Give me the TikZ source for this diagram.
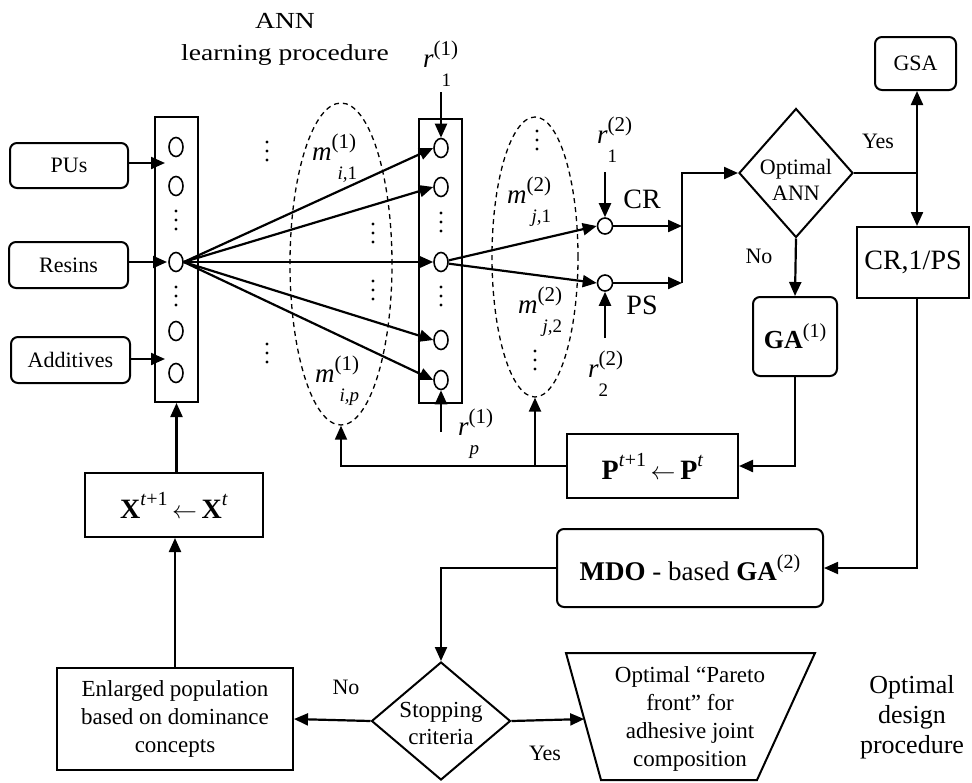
\documentclass[tikz,border=0pt]{standalone}
\usepackage{fontspec}
\setmainfont{Liberation Serif}
\usetikzlibrary{arrows.meta,shapes.geometric,calc}
\newcommand\fsz[1]{\fontsize{#1}{#1}\selectfont}
\newcommand\ssl[4][4pt]{{\fsz{27}\itshape #2}\rlap{\raisebox{12pt}{\fsz{21}(#3)}}\hspace{#1}\raisebox{-19pt}{\fsz{19}#4}}
\begin{document}
\begin{tikzpicture}[x=1pt,y=-1pt,
  ln/.style={line width=2pt},
  arr/.style={line width=2.2pt,-{Triangle[length=14pt,width=12pt]}},
  rbox/.style={draw,line width=2pt,rounded corners=7pt,inner sep=0pt,align=center},
  sbox/.style={draw,line width=2pt,inner sep=0pt,align=center},
  neuron/.style={draw,ellipse,line width=1.6pt,minimum width=14pt,minimum height=19pt,inner sep=0pt},
  oneuron/.style={neuron,minimum width=15pt,minimum height=16pt},
  dashell/.style={draw,ellipse,dash pattern=on 5pt off 4pt,line width=1.3pt,inner sep=0pt},
  lbl/.style={inner sep=0pt,align=center},
  vd/.pic={\foreach \d in {-9,0,9} \fill (0,\d) circle (1.6pt);}
]
\useasboundingbox (0,0) rectangle (972,782);

% title
\node[lbl] (tANN) at (285,21) {\scalebox{1.2}[1]{\fsz{23}ANN}};
\node[lbl] (tlearn) at (285,55) {\scalebox{1.2}[1]{\fsz{23}learning procedure}};

% inputs
\node[rbox,minimum width=118pt,minimum height=45pt,font=\fsz{22}] (PUs) at (69,165.5) {PUs};
\node[rbox,minimum width=119pt,minimum height=46pt,font=\fsz{22}] (Res) at (68.5,265) {Resins};
\node[rbox,minimum width=119pt,minimum height=46pt,font=\fsz{22}] (Add) at (70.5,360) {Additives};

% input layer
\node[sbox,minimum width=43pt,minimum height=285pt] (inl) at (176.5,259.5) {};
\node[neuron] (in1) at (176,147) {};
\node[neuron] (in2) at (176,186) {};
\node[neuron] (in3) at (176,262) {};
\node[neuron] (in4) at (176,331) {};
\node[neuron] (in5) at (176,373) {};
\pic at (176,220) {vd};
\pic at (176,296) {vd};
\coordinate (a1) at (165,163);
\coordinate (a2) at (167,262);
\coordinate (a3) at (165,359);
\draw[arr] (PUs.east |- a1) -- (a1);
\draw[arr] (Res.east |- a2) -- (a2);
\draw[arr] (Add.east |- a3) -- (a3);

% hidden layer
\node[sbox,minimum width=43pt,minimum height=284pt] (hl) at (440.5,261) {};
\node[neuron] (h1) at (441,148) {};
\node[neuron] (h2) at (441,187) {};
\node[neuron] (h3) at (441,262) {};
\node[neuron] (h4) at (441,340) {};
\node[neuron] (h5) at (441,380) {};
\pic at (441,222) {vd};
\pic at (441,296) {vd};

% dashed ellipses
\node[dashell,minimum width=102pt,minimum height=322pt] (e1) at (341,264) {};
\node[dashell,minimum width=86pt,minimum height=280pt] (e2) at (535,257) {};
\pic at (267,151) {vd};
\pic at (267,353) {vd};
\pic at (373,233) {vd};
\pic at (373,290) {vd};
\pic at (537,140) {vd};
\pic at (535,360) {vd};

\foreach \h in {h1,h2,h3,h4,h5} \draw[arr] (in3.east) -- (\h.west);

% weight labels
\node[lbl,anchor=base west] (m11) at (312,160) {\ssl[6pt]{m}{1}{\itshape i,\upshape1}};
\node[lbl,anchor=base west] (m1p) at (315,382) {\ssl[5pt]{m}{1}{\itshape i,p}};
\node[lbl,anchor=base west] (m21) at (507,203) {\ssl[5pt]{m}{2}{\itshape j,\upshape1}};
\node[lbl,anchor=base west] (m22) at (518,313) {\ssl[5pt]{m}{2}{\itshape j,\upshape2}};

% biases
\coordinate (rt1) at (441,92);
\coordinate (rtp) at (441,432);
\draw[arr] (rt1) -- (h1.north);
\draw[arr] (rtp) -- (h5.south);
\node[lbl,anchor=base west] (r11) at (423,67) {\ssl[8pt]{r}{1}{1}};
\node[lbl,anchor=base west] (r1p) at (458,435) {\ssl[1pt]{r}{1}{\itshape p}};

% outputs
\node[oneuron] (o1) at (605,226) {};
\node[oneuron] (o2) at (605,283) {};
\draw[arr] (h3.12) -- (o1.west);
\draw[arr] (h3.-12) -- (o2.west);
\coordinate (rb1) at (605,172);
\coordinate (rb2) at (605,338);
\draw[arr] (rb1) -- (o1.north);
\draw[arr] (rb2) -- (o2.south);
\node[lbl,anchor=base west] (r21) at (597,143) {\ssl[0pt]{r}{2}{1}};
\node[lbl,anchor=base west] (r22) at (588,377) {\ssl[0pt]{r}{2}{2}};
\node[lbl,font=\fsz{28}] (CR) at (642,199) {CR};
\node[lbl,font=\fsz{28}] (PS) at (642,305) {PS};

% decision optimal ANN
\node[draw,diamond,line width=2pt,minimum width=114pt,minimum height=129pt,inner sep=0pt] (dia) at (796,173) {};
\node[lbl,font=\fontsize{22}{26}\selectfont] (diat) at (796,180) {Optimal\\ANN};
\coordinate (oj1) at (682,226);
\coordinate (oj2) at (682,283);
\coordinate (ojt) at (682,173);
\draw[arr] (o1.east) -- (oj1);
\draw[arr] (o2.east) -- (oj2);
\draw[arr] (oj2) -- (ojt) -- (dia.west);

% GSA and CR,1/PS
\node[rbox,minimum width=81pt,minimum height=53pt,font=\fsz{22}] (GSA) at (915.5,63.5) {GSA};
\node[sbox,minimum width=112pt,minimum height=71pt,font=\fsz{28}] (CRb) at (913,262.5) {CR,1/PS};
\coordinate (yj) at (917,173);
\draw[ln] (dia.east) -- (yj);
\draw[arr] (yj) -- (yj |- GSA.south);
\draw[arr] (yj) -- (yj |- CRb.north);
\node[lbl,font=\fsz{22}] (yes1) at (878,141) {Yes};
\node[lbl,font=\fsz{22}] (no1) at (759,256) {No};

% GA(1)
\node[rbox,minimum width=84pt,minimum height=79pt,font=\fsz{26}] (GA1) at (795,336.5) {\textbf{GA}\raisebox{11pt}{\fsz{20}(1)}};
\draw[arr] (dia.south) -- (GA1.north);

% P box
\node[sbox,minimum width=171pt,minimum height=64pt,font=\fsz{28}] (Pb) at (652.5,466) {\textbf{P}\raisebox{13pt}{\fsz{20}\textit{t}+1}\,$\leftarrow$\,\textbf{P}\raisebox{13pt}{\fsz{20}\textit{t}}};
\draw[arr] (GA1.south) |- (Pb.east);
\draw[arr,line width=1.8pt] (Pb.west) -| (e1.south);
\draw[arr] (Pb.west -| e2.south) -- (e2.south);

% X box
\node[sbox,minimum width=178pt,minimum height=64pt,font=\fsz{28}] (Xb) at (174,505) {\textbf{X}\raisebox{13pt}{\fsz{20}\textit{t}+1}\,$\leftarrow$\,\textbf{X}\raisebox{13pt}{\fsz{20}\textit{t}}};
\draw[arr] (inl.south |- Xb.north) -- (inl.south);

% MDO box
\node[rbox,minimum width=266pt,minimum height=78pt,font=\fsz{27}] (MDO) at (690,568) {\textbf{MDO} - based \textbf{GA}\raisebox{12pt}{\fsz{20}(2)}};
\draw[arr,line width=1.8pt] (yj |- CRb.south) |- (MDO.east);

% stopping criteria
\node[draw,diamond,line width=2pt,minimum width=139pt,minimum height=118pt,inner sep=0pt] (stop) at (441,721) {};
\node[lbl,font=\fontsize{23}{27}\selectfont] (stopt) at (441,723) {Stopping\\criteria};
\draw[arr] (MDO.west) -| (stop.north);

% enlarged population
\node[sbox,minimum width=236pt,minimum height=102pt,font=\fontsize{23}{28}\selectfont] (Enl) at (175,719) {Enlarged population\\based on dominance\\concepts};
\draw[arr] (Enl.north) -- (Enl.north |- Xb.south);
\draw[arr] (stop.west) -- (Enl.east);
\node[lbl,font=\fsz{22}] (no2) at (346,687) {No};

% trapezoid
\coordinate (tzTL) at (566,653);
\coordinate (tzTR) at (815,653);
\coordinate (tzBR) at (757,780);
\coordinate (tzBL) at (601,780);
\draw[ln] (tzTL) -- (tzTR) -- (tzBR) -- (tzBL) -- cycle;
\coordinate (tzL) at ($(tzTL)!0.52!(tzBL)$);
\draw[arr] (stop.east) -- (tzL);
\node[lbl,font=\fontsize{23}{28}\selectfont] (tzt) at (690,719) {Optimal “Pareto\\front” for\\adhesive joint\\composition};
\node[lbl,font=\fsz{22}] (yes2) at (545,753) {Yes};

\node[lbl,font=\fontsize{26}{30}\selectfont] (odp) at (912,717) {Optimal\\design\\procedure};
\end{tikzpicture}
\end{document}
